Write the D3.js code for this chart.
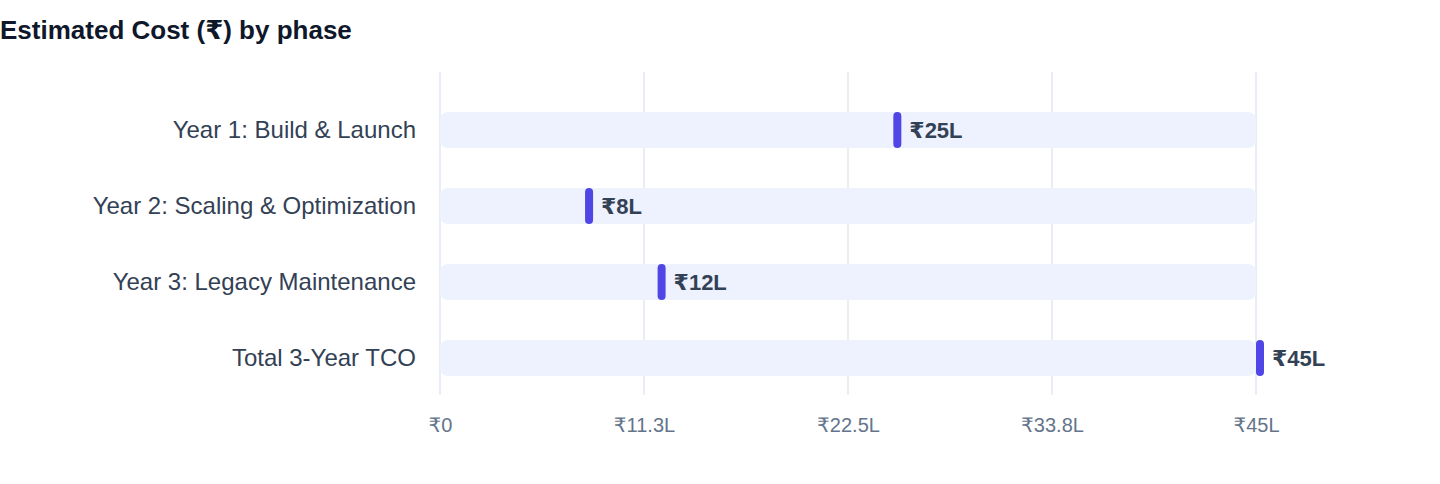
<!DOCTYPE html>
<html>
<head>
<meta charset="utf-8">
<script src="https://cdn.jsdelivr.net/npm/d3@7"></script>
<style>
  body { margin: 0; background: #fff; font-family: "Liberation Sans", Arial, "DejaVu Sans", sans-serif; }
</style>
</head>
<body>
<svg id="chart"></svg>
<script>
const phases = ['Year 1: Build & Launch', 'Year 2: Scaling & Optimization', 'Year 3: Legacy Maintenance', 'Total 3-Year TCO'];
const costs = [25, 8, 12, 45];
const costLabels = ['₹25L', '₹8L', '₹12L', '₹45L'];
const tickValues = [0, 11.25, 22.5, 33.75, 45];
const tickLabels = ['₹0', '₹11.3L', '₹22.5L', '₹33.8L', '₹45L'];

const width = 1440, height = 484;

const svg = d3.select('#chart')
  .attr('width', width)
  .attr('height', height);

svg.append('text')
  .attr('x', 0)
  .attr('y', 39)
  .attr('font-size', 26)
  .attr('font-weight', 'bold')
  .attr('fill', '#0f172a')
  .text('Estimated Cost (₹) by phase');

const x = d3.scaleLinear()
  .domain([0, 45])
  .range([440, 1256]);

const y = d3.scaleBand()
  .domain(phases)
  .range([92, 396])
  .paddingInner(0.526)
  .paddingOuter(0.263);

// grid lines
svg.append('g')
  .selectAll('line')
  .data(tickValues)
  .enter()
  .append('line')
  .attr('x1', d => x(d))
  .attr('x2', d => x(d))
  .attr('y1', 72)
  .attr('y2', 395)
  .attr('stroke', '#e2e8f0')
  .attr('stroke-width', 1.5);

// x axis tick labels
const xAxis = d3.axisBottom(x)
  .tickValues(tickValues)
  .tickFormat((d, i) => tickLabels[i])
  .tickSize(0)
  .tickPadding(0);

const gx = svg.append('g')
  .attr('transform', 'translate(0, 418)')
  .call(xAxis);
gx.select('.domain').remove();
gx.selectAll('text')
  .attr('font-family', '"Liberation Sans", Arial, "DejaVu Sans", sans-serif')
  .attr('font-size', 20)
  .attr('fill', '#64748b');

// y axis labels
const yAxis = d3.axisLeft(y).tickSize(0).tickPadding(0);
const gy = svg.append('g')
  .attr('transform', 'translate(416, 0)')
  .call(yAxis);
gy.select('.domain').remove();
gy.selectAll('text')
  .attr('font-family', '"Liberation Sans", Arial, "DejaVu Sans", sans-serif')
  .attr('font-size', 24)
  .attr('fill', '#334155');

const row = svg.append('g')
  .selectAll('g')
  .data(phases)
  .enter()
  .append('g');

// track
row.append('rect')
  .attr('x', x(0))
  .attr('y', d => y(d))
  .attr('width', x(45) - x(0))
  .attr('height', y.bandwidth())
  .attr('rx', 8)
  .attr('fill', '#eef1fe');

// marker
row.append('rect')
  .attr('x', (d, i) => x(costs[i]))
  .attr('y', d => y(d))
  .attr('width', 8)
  .attr('height', y.bandwidth())
  .attr('rx', 4)
  .attr('fill', '#4f46e5');

// value labels
row.append('text')
  .attr('x', (d, i) => x(costs[i]) + 16)
  .attr('y', d => y(d) + y.bandwidth() / 2)
  .attr('dy', '.35em')
  .attr('font-size', 22)
  .attr('font-weight', 'bold')
  .attr('fill', '#334155')
  .text((d, i) => costLabels[i]);
</script>
</body>
</html>
